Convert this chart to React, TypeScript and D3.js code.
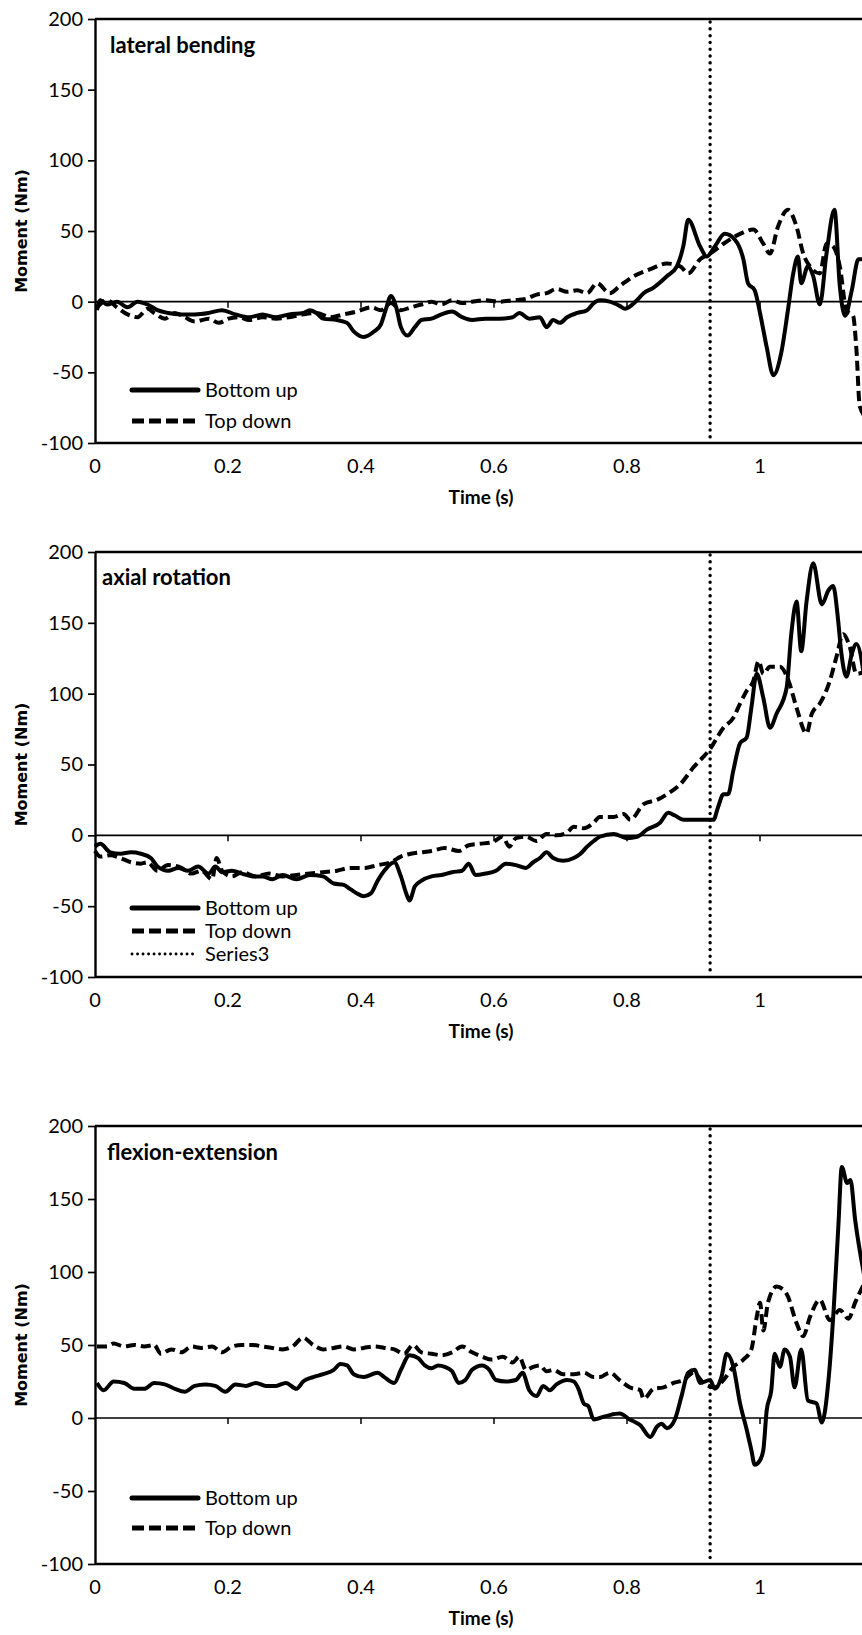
import React, { useEffect, useRef } from "react";
import * as d3 from "d3";

// tick values / labels
const xTicks = [0, 0.2, 0.4, 0.6, 0.8, 1];
const yTicks = [-100, -50, 0, 50, 100, 150, 200];
const seriesNames = ["Bottom up", "Top down", "Series3"];
const eventTime = 0.925; // Series3: vertical dotted marker

// lateral bending [time (s), moment (Nm)]
const lateralBottomUp = [
  [0.003, -6], [0.008, 1], [0.018, -2], [0.033, 0], [0.049, -4], [0.064, 0], [0.079, -2], [0.094, -6],
  [0.11, -8], [0.13, -9], [0.15, -9], [0.171, -8], [0.191, -6], [0.211, -9], [0.232, -11], [0.252, -9],
  [0.272, -11], [0.292, -9], [0.313, -8], [0.323, -6], [0.333, -8], [0.343, -12], [0.364, -13], [0.379, -15],
  [0.389, -21], [0.404, -25], [0.42, -21], [0.43, -16], [0.437, -6], [0.445, 4], [0.453, -4], [0.46, -18],
  [0.47, -24], [0.481, -18], [0.491, -13], [0.506, -12], [0.521, -9], [0.537, -7], [0.552, -11], [0.567, -13],
  [0.587, -12], [0.608, -12], [0.628, -11], [0.638, -8], [0.653, -12], [0.669, -11], [0.679, -18], [0.689, -13],
  [0.699, -15], [0.71, -11], [0.725, -8], [0.74, -6], [0.75, -1], [0.759, 1], [0.774, 0], [0.789, -3],
  [0.797, -5], [0.815, 1], [0.825, 6], [0.84, 10], [0.86, 18], [0.875, 25], [0.885, 40], [0.892, 58],
  [0.91, 39], [0.92, 32], [0.932, 39], [0.947, 48], [0.962, 44], [0.975, 30], [0.982, 13], [0.992, 8],
  [1.0, -8], [1.01, -32], [1.02, -52], [1.032, -36], [1.042, -6], [1.05, 20], [1.057, 32], [1.062, 13],
  [1.072, 25], [1.08, 18], [1.09, -2], [1.1, 34], [1.112, 65], [1.12, 11], [1.128, -10], [1.138, 8],
  [1.148, 30], [1.16, 30],
];
const lateralTopDown = [
  [0.003, -4], [0.018, 1], [0.033, -4], [0.049, -9], [0.064, -11], [0.079, -5], [0.089, -8], [0.105, -12],
  [0.12, -8], [0.135, -11], [0.15, -14], [0.171, -12], [0.186, -15], [0.201, -12], [0.216, -11], [0.232, -13],
  [0.252, -11], [0.272, -12], [0.292, -11], [0.313, -9], [0.333, -8], [0.354, -11], [0.374, -9], [0.394, -7],
  [0.415, -4], [0.43, -6], [0.445, -1], [0.46, -6], [0.475, -4], [0.491, -2], [0.506, 0], [0.521, -2],
  [0.537, 1], [0.552, -1], [0.567, 0], [0.587, 1], [0.608, 0], [0.628, 1], [0.648, 2], [0.664, 5],
  [0.679, 6], [0.694, 9], [0.71, 7], [0.725, 8], [0.74, 6], [0.755, 13], [0.774, 6], [0.789, 11],
  [0.81, 18], [0.835, 23], [0.86, 27], [0.88, 25], [0.892, 20], [0.91, 30], [0.925, 34], [0.945, 41],
  [0.97, 48], [0.99, 51], [1.005, 41], [1.015, 34], [1.027, 53], [1.042, 65], [1.055, 53], [1.065, 34],
  [1.075, 25], [1.09, 20], [1.1, 41], [1.11, 39], [1.12, 25], [1.13, -6], [1.14, -10], [1.145, -34],
  [1.15, -74], [1.16, -82],
];

// axial rotation
const axialBottomUp = [
  [0, -8], [0.008, -6], [0.023, -12], [0.038, -13], [0.054, -12], [0.069, -13], [0.084, -16], [0.094, -22],
  [0.11, -25], [0.125, -23], [0.14, -25], [0.155, -22], [0.171, -27], [0.181, -22], [0.191, -26], [0.206, -25],
  [0.221, -27], [0.237, -29], [0.252, -29], [0.267, -31], [0.282, -28], [0.303, -31], [0.323, -28], [0.343, -29],
  [0.359, -34], [0.374, -35], [0.384, -38], [0.394, -41], [0.404, -43], [0.415, -41], [0.425, -32], [0.435, -25],
  [0.45, -19], [0.46, -29], [0.468, -41], [0.473, -46], [0.481, -36], [0.491, -32], [0.506, -29], [0.521, -28],
  [0.537, -26], [0.552, -25], [0.562, -20], [0.572, -28], [0.587, -27], [0.603, -25], [0.618, -20], [0.633, -21],
  [0.648, -23], [0.659, -19], [0.669, -16], [0.679, -12], [0.689, -16], [0.704, -18], [0.72, -16], [0.73, -13],
  [0.74, -8], [0.75, -4], [0.759, -1], [0.78, 1], [0.8, -2], [0.815, -1], [0.83, 4], [0.85, 9],
  [0.862, 16], [0.872, 14], [0.885, 11], [0.905, 11], [0.93, 11], [0.937, 20], [0.945, 29], [0.952, 29],
  [0.96, 46], [0.97, 65], [0.98, 69], [0.987, 90], [0.995, 114], [1.005, 97], [1.015, 76], [1.025, 86],
  [1.04, 104], [1.047, 142], [1.055, 165], [1.062, 130], [1.07, 165], [1.08, 192], [1.093, 163], [1.103, 173],
  [1.11, 176], [1.117, 154], [1.122, 130], [1.13, 112], [1.138, 128], [1.145, 135], [1.16, 100],
];
const axialTopDown = [
  [0, -11], [0.008, -15], [0.023, -14], [0.038, -16], [0.054, -19], [0.069, -20], [0.079, -19], [0.094, -25],
  [0.11, -21], [0.13, -23], [0.145, -27], [0.16, -25], [0.176, -31], [0.183, -16], [0.191, -25], [0.206, -29],
  [0.221, -26], [0.242, -29], [0.262, -27], [0.282, -29], [0.303, -28], [0.323, -27], [0.343, -26], [0.364, -25],
  [0.384, -23], [0.404, -23], [0.425, -21], [0.445, -19], [0.46, -15], [0.475, -13], [0.491, -12], [0.506, -11],
  [0.526, -9], [0.547, -11], [0.562, -7], [0.577, -6], [0.597, -5], [0.613, -1], [0.623, -8], [0.633, -2],
  [0.648, -1], [0.664, -4], [0.679, 1], [0.694, 0], [0.71, 2], [0.72, 6], [0.735, 5], [0.75, 9],
  [0.759, 13], [0.78, 13], [0.795, 15], [0.805, 11], [0.825, 22], [0.845, 25], [0.86, 29], [0.88, 36],
  [0.9, 48], [0.925, 61], [0.945, 76], [0.96, 83], [0.97, 93], [0.98, 102], [0.99, 109], [0.998, 123],
  [1.005, 114], [1.015, 119], [1.03, 119], [1.043, 109], [1.055, 90], [1.07, 72], [1.078, 86], [1.09, 93],
  [1.105, 109], [1.115, 126], [1.125, 142], [1.135, 133], [1.145, 114], [1.16, 116],
];

// flexion-extension
const flexionBottomUp = [
  [0.003, 24], [0.013, 19], [0.028, 25], [0.044, 24], [0.059, 20], [0.074, 20], [0.089, 24], [0.105, 23],
  [0.12, 20], [0.135, 18], [0.15, 22], [0.166, 23], [0.181, 22], [0.196, 18], [0.211, 23], [0.227, 22],
  [0.242, 24], [0.257, 22], [0.272, 22], [0.287, 24], [0.303, 20], [0.313, 25], [0.328, 28], [0.343, 30],
  [0.359, 33], [0.369, 37], [0.379, 36], [0.389, 30], [0.404, 28], [0.425, 31], [0.435, 28], [0.45, 24],
  [0.46, 33], [0.473, 43], [0.486, 41], [0.496, 36], [0.506, 34], [0.516, 36], [0.526, 35], [0.537, 32],
  [0.547, 24], [0.557, 26], [0.567, 33], [0.582, 36], [0.593, 33], [0.603, 26], [0.618, 25], [0.633, 26],
  [0.643, 31], [0.653, 19], [0.664, 15], [0.674, 22], [0.684, 19], [0.694, 23], [0.71, 26], [0.72, 25],
  [0.727, 20], [0.735, 10], [0.742, 8], [0.75, -1], [0.759, 0], [0.774, 2], [0.789, 3], [0.804, -1],
  [0.82, -5], [0.835, -13], [0.845, -6], [0.852, -4], [0.86, -7], [0.872, -1], [0.882, 15], [0.892, 31],
  [0.902, 33], [0.91, 24], [0.925, 26], [0.932, 20], [0.942, 28], [0.95, 44], [0.96, 35], [0.97, 10],
  [0.98, -8], [0.987, -22], [0.992, -32], [1.0, -29], [1.005, -22], [1.01, 5], [1.017, 19], [1.022, 44],
  [1.03, 35], [1.037, 47], [1.045, 42], [1.052, 21], [1.062, 47], [1.072, 12], [1.085, 10], [1.093, -3],
  [1.103, 26], [1.111, 76], [1.118, 133], [1.123, 172], [1.131, 161], [1.136, 163], [1.143, 136], [1.16, 90],
];
const flexionTopDown = [
  [0.003, 49], [0.018, 49], [0.028, 51], [0.044, 49], [0.059, 50], [0.074, 49], [0.089, 50], [0.099, 44],
  [0.115, 47], [0.13, 45], [0.145, 49], [0.16, 48], [0.176, 49], [0.191, 45], [0.206, 49], [0.221, 50],
  [0.237, 50], [0.252, 49], [0.267, 48], [0.282, 47], [0.297, 49], [0.313, 55], [0.328, 50], [0.343, 47],
  [0.359, 48], [0.374, 49], [0.389, 47], [0.404, 48], [0.42, 49], [0.435, 48], [0.45, 47], [0.465, 44],
  [0.478, 50], [0.491, 45], [0.506, 44], [0.521, 43], [0.537, 45], [0.552, 49], [0.567, 45], [0.582, 42],
  [0.597, 40], [0.613, 42], [0.628, 38], [0.638, 42], [0.648, 33], [0.659, 35], [0.669, 36], [0.679, 32],
  [0.689, 33], [0.704, 30], [0.72, 30], [0.735, 31], [0.75, 28], [0.759, 28], [0.774, 31], [0.789, 26],
  [0.804, 21], [0.82, 19], [0.825, 13], [0.84, 20], [0.855, 21], [0.87, 24], [0.885, 26], [0.9, 31],
  [0.915, 24], [0.932, 21], [0.945, 26], [0.96, 35], [0.975, 40], [0.987, 47], [0.995, 69], [1.0, 79],
  [1.005, 60], [1.012, 79], [1.025, 90], [1.04, 85], [1.055, 65], [1.065, 56], [1.075, 69], [1.09, 81],
  [1.105, 67], [1.12, 74], [1.133, 68], [1.143, 79], [1.16, 95],
];

// layout of the three stacked panels
const panels = [
  { title: "lateral bending", bottomUp: lateralBottomUp, topDown: lateralTopDown, series3: false,
    top: 19, bottom: 443, titleX: 110, titleY: 53, legendY: 390, legendStep: 31 },
  { title: "axial rotation", bottomUp: axialBottomUp, topDown: axialTopDown, series3: true,
    top: 552, bottom: 977, titleX: 102, titleY: 585, legendY: 908, legendStep: 23 },
  { title: "flexion-extension", bottomUp: flexionBottomUp, topDown: flexionTopDown, series3: false,
    top: 1126, bottom: 1564, titleX: 107, titleY: 1160, legendY: 1498, legendStep: 30 },
];

const WIDTH = 862;
const HEIGHT = 1635;
const FONT = "Lato, 'Open Sans', sans-serif";

const App = () => {
  const svgRef = useRef(null);

  useEffect(() => {
    const svg = d3.select(svgRef.current);
    svg.selectAll("*").remove();

    // same time axis for every panel; plot runs past the right edge of the page
    const x = d3.scaleLinear().domain([0, 1.2]).range([95, 95 + 665 * 1.2]);
    const right = x(1.2);

    panels.forEach((p) => {
      const y = d3.scaleLinear().domain([-100, 200]).range([p.bottom, p.top]);
      const g = svg.append("g");

      // plot border (top / bottom)
      [200, -100].forEach((v) => {
        g.append("line")
          .attr("x1", x(0)).attr("x2", right)
          .attr("y1", y(v)).attr("y2", y(v))
          .attr("stroke", "#000").attr("stroke-width", 2.6);
      });

      // zero line with time ticks
      g.append("line")
        .attr("x1", x(0)).attr("x2", right)
        .attr("y1", y(0)).attr("y2", y(0))
        .attr("stroke", "#000").attr("stroke-width", 1.7);
      g.selectAll(".xt")
        .data(xTicks.slice(1))
        .join("line")
        .attr("x1", (d) => x(d)).attr("x2", (d) => x(d))
        .attr("y1", y(0)).attr("y2", y(0) + 6)
        .attr("stroke", "#000").attr("stroke-width", 1.5);

      // y axis
      const yAxis = g.append("g")
        .attr("transform", `translate(${x(0)},0)`)
        .call(
          d3.axisLeft(y)
            .tickValues(yTicks)
            .tickFormat((d) => String(d))
            .tickSize(7)
            .tickSizeOuter(0)
            .tickPadding(5)
        );
      yAxis.select(".domain").attr("stroke-width", 2.4);
      yAxis.selectAll("line").attr("stroke-width", 1.7);
      yAxis.selectAll("text")
        .style("font-family", FONT)
        .style("font-size", "20px")
        .attr("fill", "#000");

      // time labels along the bottom
      g.selectAll(".xl")
        .data(xTicks)
        .join("text")
        .attr("x", (d) => x(d))
        .attr("y", p.bottom + 30)
        .attr("text-anchor", "middle")
        .style("font-family", FONT)
        .style("font-size", "20px")
        .text((d) => d3.format("~g")(d));

      g.append("text")
        .attr("x", 481)
        .attr("y", p.bottom + 61)
        .attr("text-anchor", "middle")
        .style("font-family", FONT)
        .style("font-size", "19px")
        .style("font-weight", "700")
        .text("Time (s)");

      g.append("text")
        .attr("transform", `translate(27,${(p.top + p.bottom) / 2}) rotate(-90)`)
        .attr("text-anchor", "middle")
        .style("font-family", "'DejaVu Sans', Verdana, sans-serif")
        .style("font-size", "16px")
        .style("font-weight", "700")
        .text("Moment (Nm)");

      g.append("text")
        .attr("x", p.titleX)
        .attr("y", p.titleY)
        .style("font-family", FONT)
        .style("font-size", "22px")
        .style("font-weight", "700")
        .text(p.title);

      // dotted event marker
      g.append("line")
        .attr("x1", x(eventTime)).attr("x2", x(eventTime))
        .attr("y1", y(200) + 3).attr("y2", y(-100) - 3)
        .attr("stroke", "#000").attr("stroke-width", 3.4)
        .attr("stroke-linecap", "round")
        .attr("stroke-dasharray", "0.1,6.7");

      const line = d3.line()
        .x((d) => x(d[0]))
        .y((d) => y(d[1]))
        .curve(d3.curveMonotoneX);

      g.append("path")
        .datum(p.topDown)
        .attr("d", line)
        .attr("fill", "none")
        .attr("stroke", "#000")
        .attr("stroke-width", 4)
        .attr("stroke-dasharray", "10,5");

      g.append("path")
        .datum(p.bottomUp)
        .attr("d", line)
        .attr("fill", "none")
        .attr("stroke", "#000")
        .attr("stroke-width", 4)
        .attr("stroke-linejoin", "round");

      // legend
      const styles = [
        { w: 5, dash: null, cap: "round" },
        { w: 5, dash: "12,5", cap: "butt" },
        { w: 2.8, dash: "0.1,5.4", cap: "round" },
      ];
      const n = p.series3 ? 3 : 2;
      seriesNames.slice(0, n).forEach((name, i) => {
        const ly = p.legendY + i * p.legendStep;
        const s = styles[i];
        g.append("line")
          .attr("x1", 132).attr("x2", 198)
          .attr("y1", ly).attr("y2", ly)
          .attr("stroke", "#000")
          .attr("stroke-width", s.w)
          .attr("stroke-linecap", s.cap)
          .attr("stroke-dasharray", s.dash);
        g.append("text")
          .attr("x", 205)
          .attr("y", ly + 7)
          .style("font-family", FONT)
          .style("font-size", "20px")
          .text(name);
      });
    });
  }, []);

  return (
    <div style={{ position: "absolute", left: 0, top: 0, width: WIDTH, height: HEIGHT, background: "#fff" }}>
      <svg ref={svgRef} width={WIDTH} height={HEIGHT} style={{ display: "block" }}></svg>
    </div>
  );
};

export default App;
